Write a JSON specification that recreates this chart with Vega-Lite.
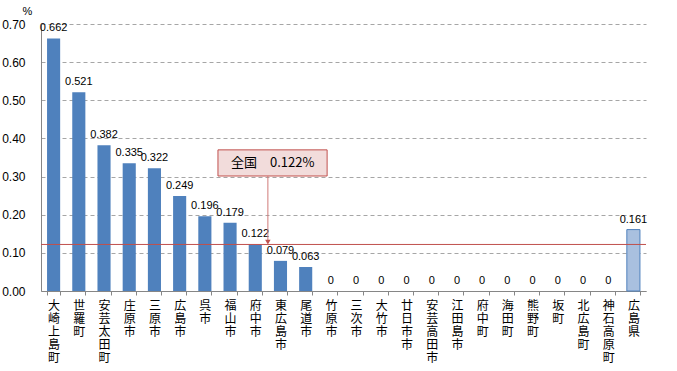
{
  "$schema": "https://vega.github.io/schema/vega-lite/v6.json",
  "width": 605,
  "height": 267,
  "autosize": "none",
  "padding": {"left": 41, "top": 24, "right": 31, "bottom": 80},
  "config": {"view": {"stroke": null}, "font": "Liberation Sans"},
  "datasets": {
    "bars": [
      {"name": "大崎上島町", "rate": 0.662, "kind": "市町"},
      {"name": "世羅町", "rate": 0.521, "kind": "市町"},
      {"name": "安芸太田町", "rate": 0.382, "kind": "市町"},
      {"name": "庄原市", "rate": 0.335, "kind": "市町"},
      {"name": "三原市", "rate": 0.322, "kind": "市町"},
      {"name": "広島市", "rate": 0.249, "kind": "市町"},
      {"name": "呉市", "rate": 0.196, "kind": "市町"},
      {"name": "福山市", "rate": 0.179, "kind": "市町"},
      {"name": "府中市", "rate": 0.122, "kind": "市町"},
      {"name": "東広島市", "rate": 0.079, "kind": "市町"},
      {"name": "尾道市", "rate": 0.063, "kind": "市町"},
      {"name": "竹原市", "rate": 0, "kind": "市町"},
      {"name": "三次市", "rate": 0, "kind": "市町"},
      {"name": "大竹市", "rate": 0, "kind": "市町"},
      {"name": "廿日市市", "rate": 0, "kind": "市町"},
      {"name": "安芸高田市", "rate": 0, "kind": "市町"},
      {"name": "江田島市", "rate": 0, "kind": "市町"},
      {"name": "府中町", "rate": 0, "kind": "市町"},
      {"name": "海田町", "rate": 0, "kind": "市町"},
      {"name": "熊野町", "rate": 0, "kind": "市町"},
      {"name": "坂町", "rate": 0, "kind": "市町"},
      {"name": "北広島町", "rate": 0, "kind": "市町"},
      {"name": "神石高原町", "rate": 0, "kind": "市町"},
      {"name": "広島県", "rate": 0.161, "kind": "県"}
    ],
    "nat": [
      {"label": "全国　0.122%", "rate": 0.122, "x1": 7.02, "x2": 11.35, "y1": 0.3015, "y2": 0.37, "xm": 9.19, "ym": 0.336, "ax": 9.0, "atip": 0.128}
    ]
  },
  "layer": [
    {
      "data": {"name": "bars"},
      "encoding": {
        "x": {
          "field": "name", "type": "nominal", "sort": null,
          "scale": {"paddingInner": 0.48, "paddingOuter": 0.24},
          "axis": {
            "title": null, "labelAngle": 0, "labelExpr": "split(datum.label, '')",
            "labelFont": "Noto Sans CJK JP", "labelFontSize": 12, "labelLineHeight": 13,
            "labelBaseline": "top", "labelPadding": 5, "labelColor": "#000000",
            "tickBand": "extent", "tickSize": 4, "tickColor": "#868686",
            "domainColor": "#868686", "grid": false
          }
        },
        "y": {
          "field": "rate", "type": "quantitative",
          "scale": {"domain": [0, 0.7], "nice": false},
          "axis": {
            "values": [0, 0.1, 0.2, 0.3, 0.4, 0.5, 0.6, 0.7], "format": ".2f", "labelOverlap": false,
            "title": "%", "titleAngle": 0, "titleFontWeight": "normal", "titleFontSize": 11,
            "titleX": -14, "titleY": -8, "titleAlign": "center", "titleBaseline": "bottom",
            "labelFontSize": 12, "labelColor": "#000000", "ticks": false, "labelPadding": 16,
            "domainColor": "#868686", "gridColor": "#a6a6a6", "gridDash": [4, 3],
            "labelFont": "Liberation Sans"
          }
        }
      },
      "layer": [
        {
          "mark": {"type": "bar", "strokeWidth": 1},
          "encoding": {
            "color": {
              "field": "kind", "type": "nominal", "legend": null,
              "scale": {"domain": ["市町", "県"], "range": ["#4f81bd", "#a9c0df"]}
            },
            "stroke": {
              "field": "kind", "type": "nominal", "legend": null,
              "scale": {"domain": ["市町", "県"], "range": ["rgba(0,0,0,0)", "#4f81bd"]}
            }
          }
        },
        {
          "mark": {"type": "text", "baseline": "bottom", "dy": -5, "fontSize": 11, "color": "#000000"},
          "encoding": {"text": {"field": "rate", "type": "quantitative", "format": ".3~f"}}
        }
      ]
    },
    {
      "data": {"name": "nat"},
      "encoding": {
        "y": {
          "field": "rate", "type": "quantitative",
          "scale": {"domain": [0, 0.7], "nice": false},
          "axis": {
            "values": [0, 0.1, 0.2, 0.3, 0.4, 0.5, 0.6, 0.7], "format": ".2f", "labelOverlap": false,
            "title": "%", "titleAngle": 0, "titleFontWeight": "normal", "titleFontSize": 11,
            "titleX": -14, "titleY": -8, "titleAlign": "center", "titleBaseline": "bottom",
            "labelFontSize": 12, "labelColor": "#000000", "ticks": false, "labelPadding": 16,
            "domainColor": "#868686", "gridColor": "#a6a6a6", "gridDash": [4, 3],
            "labelFont": "Liberation Sans"
          }
        }
      },
      "layer": [
        {
          "mark": {"type": "rule", "color": "#c0504d", "strokeWidth": 1},
          "encoding": {}
        },
        {
          "mark": {"type": "rect", "fill": "#f2dcdb", "stroke": "#c0504d", "strokeWidth": 1},
          "encoding": {
            "x": {"field": "x1", "type": "quantitative", "scale": {"domain": [0, 24], "nice": false, "zero": false}, "axis": null},
            "x2": {"field": "x2"},
            "y": {"field": "y1"},
            "y2": {"field": "y2"}
          }
        },
        {
          "mark": {"type": "text", "font": "Noto Sans CJK JP", "fontSize": 13, "color": "#000000"},
          "encoding": {
            "x": {"field": "xm", "type": "quantitative", "scale": {"domain": [0, 24], "nice": false, "zero": false}, "axis": null},
            "y": {"field": "ym"},
            "text": {"field": "label"}
          }
        },
        {
          "mark": {"type": "rule", "color": "#d07a78", "strokeWidth": 1},
          "encoding": {
            "x": {"field": "ax", "type": "quantitative", "scale": {"domain": [0, 24], "nice": false, "zero": false}, "axis": null},
            "y": {"field": "y1"},
            "y2": {"field": "atip"}
          }
        },
        {
          "mark": {"type": "point", "shape": "triangle-down", "filled": true, "size": 30, "color": "#c0504d", "opacity": 1},
          "encoding": {
            "x": {"field": "ax", "type": "quantitative", "scale": {"domain": [0, 24], "nice": false, "zero": false}, "axis": null},
            "y": {"field": "atip"}
          }
        }
      ]
    }
  ],
  "resolve": {"scale": {"x": "independent"}}
}
